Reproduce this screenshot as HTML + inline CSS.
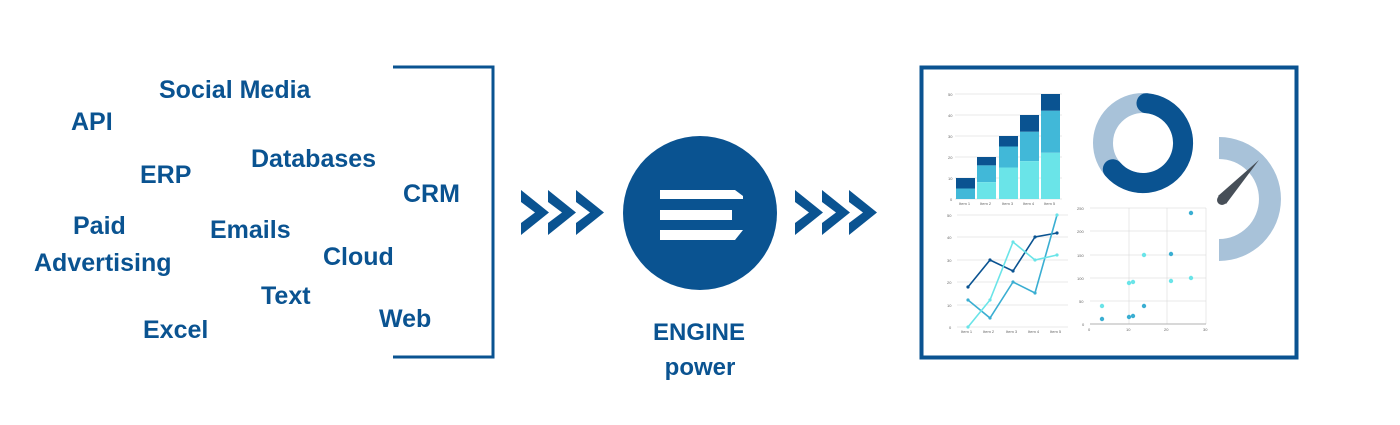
<!DOCTYPE html>
<html><head><meta charset="utf-8"><style>
html,body{margin:0;padding:0;background:#fff;}
svg{display:block;}
</style></head><body>
<svg width="1400" height="425" viewBox="0 0 1400 425" xmlns="http://www.w3.org/2000/svg">
<rect width="1400" height="425" fill="#fff"/>
<g font-family="Liberation Sans, Arial, sans-serif" font-weight="bold" font-size="25" fill="#0a5391">
<text x="159" y="98">Social Media</text>
<text x="71" y="130">API</text>
<text x="140" y="183">ERP</text>
<text x="251" y="167">Databases</text>
<text x="403" y="202">CRM</text>
<text x="73" y="234">Paid</text>
<text x="210" y="238">Emails</text>
<text x="34" y="271">Advertising</text>
<text x="323" y="265">Cloud</text>
<text x="261" y="304">Text</text>
<text x="379" y="327">Web</text>
<text x="143" y="338">Excel</text>
</g>
<g font-family="Liberation Sans, Arial, sans-serif" font-weight="bold" font-size="24" fill="#0a5391">
<text x="699" y="340" text-anchor="middle">ENGINE</text>
<text x="700" y="375" text-anchor="middle">power</text>
</g>
<path d="M393 67 H493 V357 H393" fill="none" stroke="#0a5391" stroke-width="3"/>
<g fill="#0a5391">
<path id="ch" d="M521 190 L549 212.5 L521 235 L521 223 L535 212.5 L521 202 Z"/>
<use href="#ch" x="27"/><use href="#ch" x="55"/>
<use href="#ch" x="274"/><use href="#ch" x="301"/><use href="#ch" x="328"/>
</g>
<circle cx="700" cy="213" r="77" fill="#0a5391"/>
<g fill="#fff">
<path d="M660 190 H735 L743 196 L743 199 H660 Z"/>
<rect x="660" y="210" width="72" height="10"/>
<path d="M660 230 H743 L735 240 H660 Z"/>
</g>
<rect x="921.5" y="67.5" width="375" height="290" fill="none" stroke="#0a5391" stroke-width="4"/>
<g stroke="#e3e3e3" stroke-width="0.7">
<line x1="955" y1="94" x2="1062" y2="94"/><line x1="955" y1="115" x2="1062" y2="115"/><line x1="955" y1="136" x2="1062" y2="136"/><line x1="955" y1="157" x2="1062" y2="157"/><line x1="955" y1="178" x2="1062" y2="178"/><line x1="955" y1="199" x2="1062" y2="199"/>
</g>
<g font-family="Liberation Sans, sans-serif" font-size="4" fill="#666">
<text x="948" y="96">50</text><text x="948" y="117">40</text><text x="948" y="138">30</text><text x="948" y="159">20</text><text x="948" y="180">10</text><text x="950" y="201">0</text>
<text x="959" y="205">Item 1</text><text x="980" y="205">Item 2</text><text x="1002" y="205">Item 3</text><text x="1023" y="205">Item 4</text><text x="1044" y="205">Item 5</text>
</g>
<g>
<rect x="956" y="178" width="19" height="10.5" fill="#0a5391"/><rect x="956" y="188.5" width="19" height="10.5" fill="#41b8d8"/>
<rect x="977" y="157" width="19" height="8.4" fill="#0a5391"/><rect x="977" y="165.4" width="19" height="16.8" fill="#41b8d8"/><rect x="977" y="182.2" width="19" height="16.8" fill="#6ae4e8"/>
<rect x="999" y="136" width="19" height="10.5" fill="#0a5391"/><rect x="999" y="146.5" width="19" height="21" fill="#41b8d8"/><rect x="999" y="167.5" width="19" height="31.5" fill="#6ae4e8"/>
<rect x="1020" y="115" width="19" height="16.8" fill="#0a5391"/><rect x="1020" y="131.8" width="19" height="29.4" fill="#41b8d8"/><rect x="1020" y="161.2" width="19" height="37.8" fill="#6ae4e8"/>
<rect x="1041" y="94" width="19" height="16.8" fill="#0a5391"/><rect x="1041" y="110.8" width="19" height="42" fill="#41b8d8"/><rect x="1041" y="152.8" width="19" height="46.2" fill="#6ae4e8"/>
</g>
<g stroke="#e3e3e3" stroke-width="0.7">
<line x1="957" y1="215" x2="1068" y2="215"/><line x1="957" y1="237" x2="1068" y2="237"/><line x1="957" y1="260" x2="1068" y2="260"/><line x1="957" y1="282" x2="1068" y2="282"/><line x1="957" y1="305" x2="1068" y2="305"/><line x1="957" y1="327" x2="1068" y2="327"/>
</g>
<g font-family="Liberation Sans, sans-serif" font-size="4" fill="#666">
<text x="947" y="217">50</text><text x="947" y="239">40</text><text x="947" y="262">30</text><text x="947" y="284">20</text><text x="947" y="307">10</text><text x="949" y="329">0</text>
<text x="961" y="333">Item 1</text><text x="983" y="333">Item 2</text><text x="1006" y="333">Item 3</text><text x="1028" y="333">Item 4</text><text x="1050" y="333">Item 5</text>
</g>
<g fill="none" stroke-width="1.6">
<polyline points="968,287 990,260 1013,271 1035,237 1057,233" stroke="#0a5391"/>
<polyline points="968,300 990,318 1013,282 1035,293 1057,215" stroke="#3aaed2"/>
<polyline points="968,327 990,300 1013,242 1035,260 1057,255" stroke="#6ae4e8"/>
</g>
<g fill="#0a5391"><circle cx="968" cy="287" r="1.6"/><circle cx="990" cy="260" r="1.6"/><circle cx="1013" cy="271" r="1.6"/><circle cx="1035" cy="237" r="1.6"/><circle cx="1057" cy="233" r="1.6"/></g>
<g fill="#3aaed2"><circle cx="968" cy="300" r="1.6"/><circle cx="990" cy="318" r="1.6"/><circle cx="1013" cy="282" r="1.6"/><circle cx="1035" cy="293" r="1.6"/></g>
<g fill="#6ae4e8"><circle cx="968" cy="327" r="1.6"/><circle cx="990" cy="300" r="1.6"/><circle cx="1013" cy="242" r="1.6"/><circle cx="1035" cy="260" r="1.6"/><circle cx="1057" cy="255" r="1.6"/><circle cx="1057" cy="215" r="1.6"/></g>
<g stroke="#e0e0e0" stroke-width="0.7">
<line x1="1090" y1="208" x2="1206" y2="208"/><line x1="1090" y1="231" x2="1206" y2="231"/><line x1="1090" y1="255" x2="1206" y2="255"/><line x1="1090" y1="278" x2="1206" y2="278"/><line x1="1090" y1="301" x2="1206" y2="301"/>
<line x1="1129" y1="208" x2="1129" y2="324"/><line x1="1167" y1="208" x2="1167" y2="324"/><line x1="1206" y1="208" x2="1206" y2="324"/>
</g>
<line x1="1090" y1="324" x2="1206" y2="324" stroke="#999" stroke-width="0.7"/>
<g font-family="Liberation Sans, sans-serif" font-size="4" fill="#666">
<text x="1077" y="210">250</text><text x="1077" y="233">200</text><text x="1077" y="257">150</text><text x="1077" y="280">100</text><text x="1079" y="303">50</text><text x="1082" y="326">0</text>
<text x="1088" y="331">0</text><text x="1126" y="331">10</text><text x="1164" y="331">20</text><text x="1203" y="331">30</text>
</g>
<g fill="#3aaed2"><circle cx="1102" cy="319" r="2.2"/><circle cx="1129" cy="317" r="2.2"/><circle cx="1133" cy="316" r="2.2"/><circle cx="1144" cy="306" r="2.2"/><circle cx="1171" cy="254" r="2.2"/><circle cx="1191" cy="213" r="2.2"/></g>
<g fill="#6ae4e8"><circle cx="1102" cy="306" r="2.2"/><circle cx="1129" cy="283" r="2.2"/><circle cx="1133" cy="282" r="2.2"/><circle cx="1144" cy="255" r="2.2"/><circle cx="1171" cy="281" r="2.2"/><circle cx="1191" cy="278" r="2.2"/></g>
<circle cx="1143" cy="143" r="40" fill="none" stroke="#a8c2d9" stroke-width="20"/>
<path d="M1146.5 103.2 A40 40 0 1 1 1112.8 169.2" fill="none" stroke="#0a5391" stroke-width="20" stroke-linecap="round"/>
<path d="M1219 137 A62 62 0 0 1 1219 261 L1219 239 A40 40 0 0 0 1219 159 Z" fill="#a8c2d9"/>
<path d="M1218 196 L1259 160 L1226 204 Z" fill="#474f58"/>
<circle cx="1222" cy="200" r="5" fill="#474f58"/>
</svg>
</body></html>
